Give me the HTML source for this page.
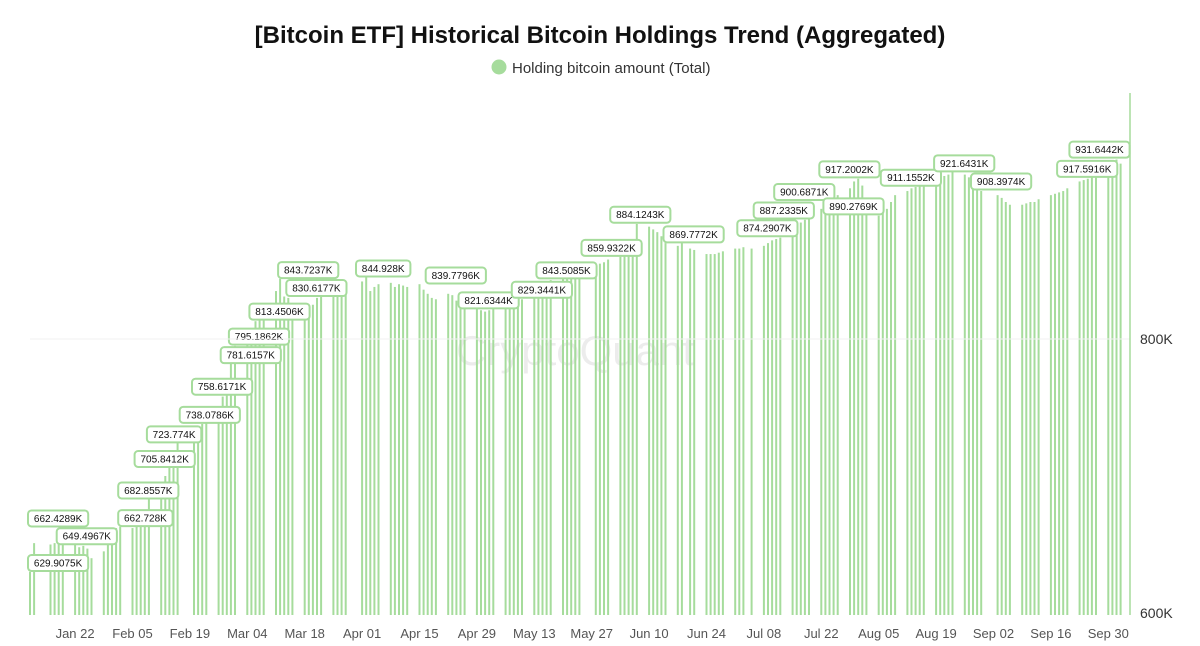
<!DOCTYPE html>
<html><head><meta charset="utf-8"><style>
body{margin:0;background:#fff;width:1200px;height:646px;overflow:hidden;font-family:"Liberation Sans",sans-serif}
svg{display:block}
</style></head><body>
<svg id="chart" width="1200" height="646" viewBox="0 0 1200 646">
<text x="600" y="43" text-anchor="middle" font-size="24" font-weight="bold" fill="#111">[Bitcoin ETF] Historical Bitcoin Holdings Trend (Aggregated)</text>
<g>
<circle cx="499" cy="67" r="7.5" fill="#a6dc9c"/>
<text x="512" y="73" font-size="15" fill="#333">Holding bitcoin amount (Total)</text>
</g>
<text x="575" y="365" text-anchor="middle" font-size="42" fill="#000" opacity="0.07">CryptoQuant</text>
<g id="bars"></g><g id="labels"></g><g id="axes"></g>
</svg>
<script>
const dates=["01-11","01-12","01-16","01-17","01-18","01-19","01-22","01-23","01-24","01-25","01-26","01-29","01-30","01-31","02-01","02-02","02-05","02-06","02-07","02-08","02-09","02-12","02-13","02-14","02-15","02-16","02-20","02-21","02-22","02-23","02-26","02-27","02-28","02-29","03-01","03-04","03-05","03-06","03-07","03-08","03-11","03-12","03-13","03-14","03-15","03-18","03-19","03-20","03-21","03-22","03-25","03-26","03-27","03-28","04-01","04-02","04-03","04-04","04-05","04-08","04-09","04-10","04-11","04-12","04-15","04-16","04-17","04-18","04-19","04-22","04-23","04-24","04-25","04-26","04-29","04-30","05-01","05-02","05-03","05-06","05-07","05-08","05-09","05-10","05-13","05-14","05-15","05-16","05-17","05-20","05-21","05-22","05-23","05-24","05-28","05-29","05-30","05-31","06-03","06-04","06-05","06-06","06-07","06-10","06-11","06-12","06-13","06-14","06-17","06-18","06-20","06-21","06-24","06-25","06-26","06-27","06-28","07-01","07-02","07-03","07-05","07-08","07-09","07-10","07-11","07-12","07-15","07-16","07-17","07-18","07-19","07-22","07-23","07-24","07-25","07-26","07-29","07-30","07-31","08-01","08-02","08-05","08-06","08-07","08-08","08-09","08-12","08-13","08-14","08-15","08-16","08-19","08-20","08-21","08-22","08-23","08-26","08-27","08-28","08-29","08-30","09-03","09-04","09-05","09-06","09-09","09-10","09-11","09-12","09-13","09-16","09-17","09-18","09-19","09-20","09-23","09-24","09-25","09-26","09-27","09-30","10-01","10-02","10-03"];
const values=[630,651,650,651,655,662,650,648,649,647,640,645,655,660,662,663,662,663,665,670,683,690,700,706,715,724,728,735,738,745,750,758,770,782,795,800,805,813,820,826,835,844,831,830,825,820,818,825,830,832,832,831,833,838,842,845,835,838,840,841,838,840,839,838,840,836,833,830,829,833,832,828,825,822,822,821,820,821,822,825,826,827,826,829,830,832,835,838,843,844,845,847,848,850,852,855,856,858,860,863,868,872,884,882,880,878,875,870,868,870,866,865,862,862,862,863,864,866,866,867,866,868,870,872,873,874,878,882,885,887,890,895,898,900,901,905,910,915,917,912,900,890,893,895,900,905,908,910,911,912,913,915,918,919,920,922,920,918,912,910,908,905,903,900,898,898,899,900,900,902,905,906,907,908,910,915,916,917,918,918,920,925,931,928];
const labelTexts=["662.4289K","649.4967K","629.9075K","682.8557K","662.728K","705.8412K","723.774K","738.0786K","758.6171K","781.6157K","795.1862K","813.4506K","843.7237K","830.6177K","844.928K","839.7796K","821.6344K","829.3441K","843.5085K","859.9322K","884.1243K","869.7772K","874.2907K","887.2335K","900.6871K","917.2002K","890.2769K","911.1552K","921.6431K","908.3974K","917.5916K","931.6442K"];
const labelValues=[662.4289,649.4967,629.9075,682.8557,662.728,705.8412,723.774,738.0786,758.6171,781.6157,795.1862,813.4506,843.7237,830.6177,844.928,839.7796,821.6344,829.3441,843.5085,859.9322,884.1243,869.7772,874.2907,887.2335,900.6871,917.2002,890.2769,911.1552,921.6431,908.3974,917.5916,931.6442];
const labelDates=["01-11","01-18","01-11","02-02","02-02","02-06","02-09","02-17","02-20","02-27","02-29","03-05","03-12","03-14","03-31","04-17","04-25","05-08","05-14","05-25","06-01","06-14","07-02","07-06","07-11","07-22","07-23","08-06","08-19","08-28","09-18","09-21"];
const xTicks=["Jan 22","Feb 05","Feb 19","Mar 04","Mar 18","Apr 01","Apr 15","Apr 29","May 13","May 27","Jun 10","Jun 24","Jul 08","Jul 22","Aug 05","Aug 19","Sep 02","Sep 16","Sep 30"];
const yTicks=[600,800];

const NS="http://www.w3.org/2000/svg";
const start=Date.UTC(2024,0,11);
function dayIdx(s){const [m,d]=s.split("-").map(Number);return (Date.UTC(2024,m-1,d)-start)/864e5;}
function x(s){return 30+dayIdx(s)*4.1;}
function y(v){return 613-(v-600)*1.37;}
function mk(tag,attrs,parent){const e=document.createElementNS(NS,tag);for(const k in attrs)e.setAttribute(k,attrs[k]);parent.appendChild(e);return e;}
const gb=document.getElementById("bars"),gl=document.getElementById("labels"),ga=document.getElementById("axes");
mk("line",{x1:30,x2:1130,y1:y(800),y2:y(800),stroke:"#f0f0f0"},ga);
dates.forEach((d,i)=>{
  const r=mk("rect",{x:x(d)-1,y:y(values[i]),width:2,height:615-y(values[i]),fill:"#a6dc9c"},gb);
  
  
});
const cur=mk("line",{x1:1130,x2:1130,y1:93,y2:615,stroke:"#a6dc9c","stroke-width":1.5},ga);


labelTexts.forEach((t,i)=>{
  const lx=x(labelDates[i])-2, cy=y(labelValues[i])-9;
  const g=mk("g",{},gl);
  
  
  const w=t.length*5.8+8;
  mk("rect",{x:lx,y:cy-8,width:w,height:16,rx:3.5,fill:"#fff",stroke:"#a6dc9c","stroke-width":2},g);
  const tx=mk("text",{x:lx+w/2,y:cy+3.5,"text-anchor":"middle","font-size":"10",fill:"#111"},g);
  tx.textContent=t;
});
const tickDates=["01-22","02-05","02-19","03-04","03-18","04-01","04-15","04-29","05-13","05-27","06-10","06-24","07-08","07-22","08-05","08-19","09-02","09-16","09-30"];
xTicks.forEach((t,i)=>{
  const tx=mk("text",{x:x(tickDates[i]),y:638,"text-anchor":"middle","font-size":"13",fill:"#555"},ga);
  
  
  tx.textContent=t;
});
yTicks.forEach(v=>{
  const tx=mk("text",{x:1140,y:y(v)+5,"font-size":"14",fill:"#333"},ga);
  
  
  tx.textContent=v+"K";
});
</script>
</body></html>
